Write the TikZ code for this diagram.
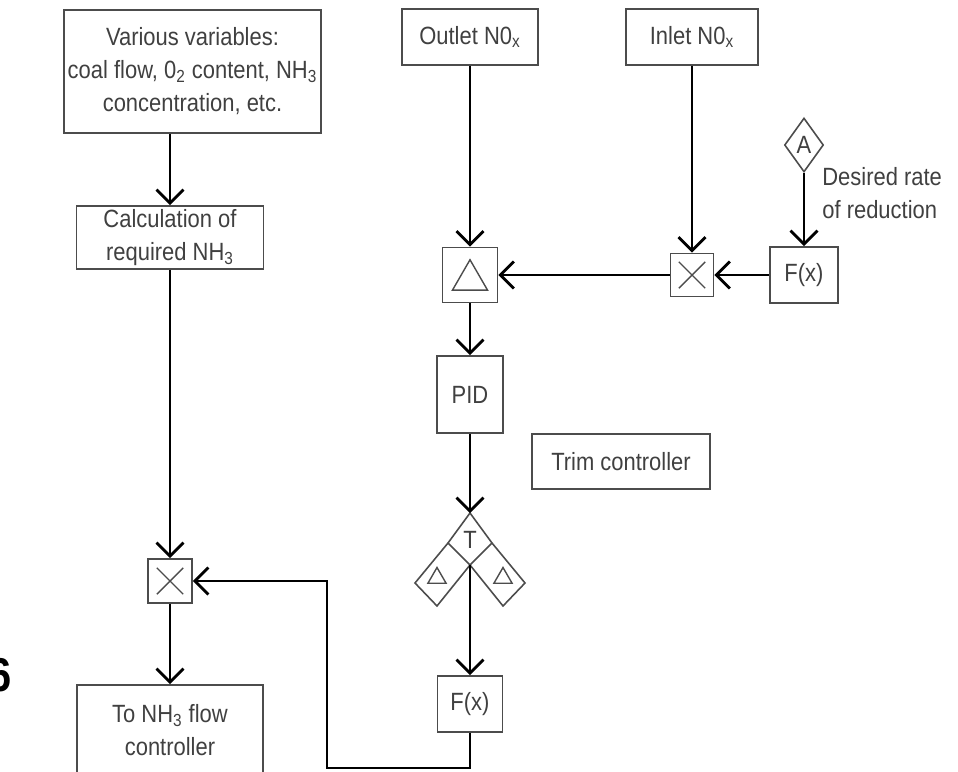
\documentclass[tikz,border=0pt]{standalone}
\usepackage{fontspec}
\setmainfont{Liberation Sans}[FakeStretch=0.88]
\usepackage{tikz}
\usetikzlibrary{arrows.meta, shapes.geometric, shapes.misc, positioning, calc}

\begin{document}
\begin{tikzpicture}[font=\fontsize{14.2}{18.8}\selectfont,
	bx/.style={draw=black!70, line width=0.9pt, align=center, inner sep=2pt, text=black!75},
	op/.style={draw=black!70, line width=0.9pt, inner sep=0pt},
	sym/.style={draw=black!70, line width=0.8pt, inner sep=0pt},
	fl/.style={-{Straight Barb[length=2.7mm, width=5.4mm]}, line width=1.6pt}]
	\clip (0,0) rectangle (19.16,-15.44);
	% left branch
	\node[font=\fontsize{27}{27}\bfseries\selectfont, inner sep=0pt] (fig) at (0.0,-13.5) {6};
	\node[bx, minimum width=5.1cm, minimum height=2.46cm] (vars) at (3.85,-1.43)
		{Various variables:\\coal flow, 0\textsubscript{2} content, NH\textsubscript{3}\\concentration, etc.};
	\node[bx, minimum width=3.74cm, minimum height=1.22cm] (calc) at (3.4,-4.75)
		{Calculation of\\required NH\textsubscript{3}};
	\node[op, minimum size=0.88cm] (multL) at (3.4,-11.62) {};
	\node[sym, cross out, minimum size=0.5cm] (xL) at (multL) {};
	\node[bx, minimum width=3.72cm, minimum height=1.8cm] (flow) at (3.4,-14.6)
		{To NH\textsubscript{3} flow\\controller};
	\draw[fl] (vars.south -| calc.north) -- (calc);
	\draw[fl] (calc) -- (multL);
	\draw[fl] (multL) -- (flow);
	% trim controller
	\node[bx, minimum width=2.72cm, minimum height=1.12cm] (outlet) at (9.4,-0.74) {Outlet N0\textsubscript{x}};
	\node[bx, minimum width=2.64cm, minimum height=1.12cm] (inlet) at (13.84,-0.74) {Inlet N0\textsubscript{x}};
	\node[op, minimum size=1.1cm] (delta) at (9.4,-5.5) {};
	\node[sym, regular polygon, regular polygon sides=3, minimum size=0.81cm] (dtri) at ([yshift=-0.1cm]delta.center) {};
	\node[op, minimum size=0.86cm] (multR) at (13.84,-5.5) {};
	\node[sym, cross out, minimum size=0.5cm] (xR) at (multR) {};
	\node[bx, minimum width=1.36cm, minimum height=1.12cm] (fxR) at (16.08,-5.5) {F(x)};
	\node[op, diamond, aspect=0.72, minimum width=0.78cm, minimum height=1.08cm, text=black!75] (A) at (16.08,-2.9) {A};
	\node[anchor=west, align=left, inner sep=0pt, text=black!75] (rate) at (16.44,-3.86) {Desired rate\\of reduction};
	\node[bx, minimum width=1.32cm, minimum height=1.54cm] (pid) at (9.4,-7.89) {PID};
	\node[bx, minimum width=3.56cm, minimum height=1.1cm] (trim) at (12.42,-9.23) {Trim controller};
	\draw[fl] (outlet) -- (delta);
	\draw[fl] (inlet.south -| multR.north) -- (multR);
	\draw[fl] (A) -- (fxR);
	\draw[fl] (fxR) -- (multR);
	\draw[fl] (multR) -- (delta);
	\draw[fl] (delta) -- (pid);
	% selector
	\coordinate (Tt) at (9.40,-10.26);
	\coordinate (Tl) at (8.96,-10.86);
	\coordinate (Tr) at (9.84,-10.86);
	\coordinate (Tb) at (9.40,-11.30);
	\coordinate (Ll) at (8.30,-11.66);
	\coordinate (Lb) at (8.74,-12.12);
	\coordinate (Rr) at (10.50,-11.66);
	\coordinate (Rb) at (10.06,-12.12);
	\draw[black!70, line width=0.9pt] (Tt) -- (Tr) -- (Tb) -- (Tl) -- cycle;
	\draw[black!70, line width=0.9pt] (Tl) -- (Ll) -- (Lb) -- (Tb);
	\draw[black!70, line width=0.9pt] (Tr) -- (Rr) -- (Rb) -- (Tb);
	\node[text=black!75] (T) at (9.40,-10.80) {T};
	\node[sym, regular polygon, regular polygon sides=3, minimum size=0.42cm] (lt) at (8.74,-11.56) {};
	\node[sym, regular polygon, regular polygon sides=3, minimum size=0.42cm] (rt) at (10.06,-11.56) {};
	\node[bx, minimum width=1.3cm, minimum height=1.12cm] (fxL) at (9.4,-14.08) {F(x)};
	\coordinate (fb) at (6.54,-15.36);
	\draw[fl] (pid) -- (Tt);
	\draw[fl] (Tb) -- (fxL);
	\draw[fl] (fxL.south) |- (fb) |- (multL.east);
\end{tikzpicture}
\end{document}
